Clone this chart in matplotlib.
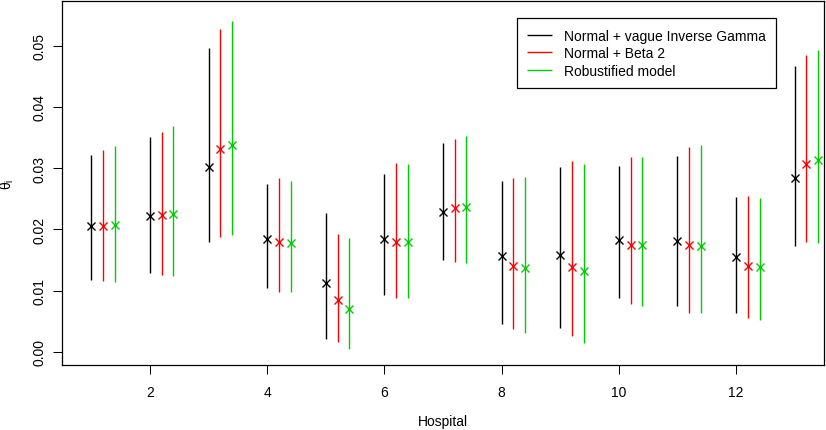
import matplotlib
matplotlib.use('Agg')
import numpy as np
import matplotlib.pyplot as plt

plt.rcParams['font.family'] = ['Liberation Sans', 'DejaVu Sans']
plt.rcParams['mathtext.fontset'] = 'custom'
plt.rcParams['mathtext.rm'] = 'Liberation Sans'
plt.rcParams['mathtext.it'] = 'Liberation Sans:italic'

hospitals = np.arange(1, 14)

# Normal + vague Inverse Gamma
ig_mid = [0.0205, 0.0221, 0.0301, 0.0184, 0.0112, 0.0184, 0.0229, 0.0156, 0.0158, 0.0183, 0.0181, 0.0154, 0.0284]
ig_low = [0.0117, 0.0129, 0.0179, 0.0104, 0.0020, 0.0092, 0.0150, 0.0045, 0.0038, 0.0087, 0.0074, 0.0063, 0.0172]
ig_high = [0.0322, 0.0350, 0.0497, 0.0274, 0.0226, 0.0290, 0.0341, 0.0279, 0.0302, 0.0303, 0.0320, 0.0252, 0.0467]

# Normal + Beta 2
b2_mid = [0.0205, 0.0224, 0.0331, 0.0179, 0.0085, 0.0180, 0.0234, 0.0140, 0.0138, 0.0175, 0.0174, 0.0140, 0.0307]
b2_low = [0.0115, 0.0125, 0.0188, 0.0098, 0.0016, 0.0088, 0.0147, 0.0037, 0.0026, 0.0078, 0.0064, 0.0055, 0.0179]
b2_high = [0.0330, 0.0359, 0.0527, 0.0283, 0.0192, 0.0309, 0.0348, 0.0284, 0.0312, 0.0318, 0.0335, 0.0254, 0.0485]

# Robustified model
rb_mid = [0.0207, 0.0225, 0.0337, 0.0177, 0.0070, 0.0180, 0.0236, 0.0137, 0.0132, 0.0175, 0.0173, 0.0139, 0.0313]
rb_low = [0.0114, 0.0123, 0.0191, 0.0098, 0.0004, 0.0087, 0.0145, 0.0031, 0.0015, 0.0075, 0.0064, 0.0052, 0.0177]
rb_high = [0.0336, 0.0368, 0.0540, 0.0279, 0.0185, 0.0307, 0.0352, 0.0286, 0.0306, 0.0318, 0.0337, 0.0251, 0.0493]

series = [
    ('Normal + vague Inverse Gamma', 'black', 0.0, ig_mid, ig_low, ig_high),
    ('Normal + Beta 2', '#FF0000', 0.2, b2_mid, b2_low, b2_high),
    ('Robustified model', '#00CD00', 0.4, rb_mid, rb_low, rb_high),
]

fig = plt.figure(figsize=(8.26, 4.31), dpi=100)
ax = fig.add_axes([0.0751, 0.1508, 0.9225, 0.8446])

for name, color, off, mid, low, high in series:
    x = hospitals + off
    ax.vlines(x, low, high, colors=color, linewidth=1.0, label=name)
    ax.plot(x, mid, linestyle='none', marker='x', markersize=6,
            markeredgewidth=1.0, color=color)

ax.set_xlim(0.5, 13.5)
ax.set_ylim(-0.00217, 0.0573)
ax.set_xticks([2, 4, 6, 8, 10, 12])
ax.set_yticks([0.0, 0.01, 0.02, 0.03, 0.04, 0.05])
ax.set_yticklabels(['%.2f' % v for v in ax.get_yticks()], rotation=90, va='center')
ax.tick_params(axis='both', direction='out', length=6.5, width=0.75, labelsize=10)
ax.tick_params(axis='x', pad=8)
ax.tick_params(axis='y', pad=5)
for s in ax.spines.values():
    s.set_linewidth(0.9)
    s.set_color('black')

ax.set_xlabel('Hospital', fontsize=10, labelpad=10.5)
ax.set_ylabel(r'$\mathrm{\theta_i}$', fontsize=10, labelpad=11.5)

leg = ax.legend(loc='upper left', bbox_to_anchor=(0.597, 0.9525), borderaxespad=0,
                fontsize=10, fancybox=False, edgecolor='black', framealpha=1,
                handlelength=1.8, handletextpad=0.85, labelspacing=0.25,
                borderpad=0.75)
leg.get_frame().set_linewidth(0.9)

fig.savefig('out.png', dpi=100)
